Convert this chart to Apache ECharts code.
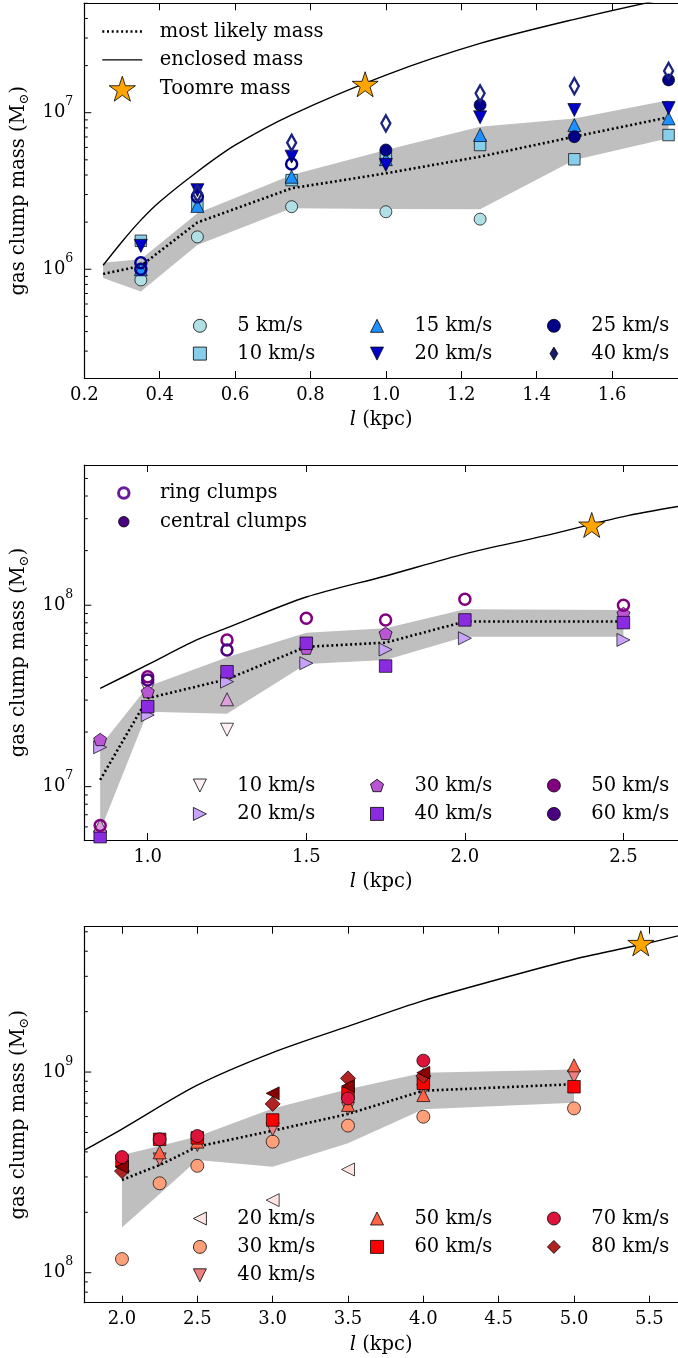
<!DOCTYPE html>
<html><head><meta charset="utf-8">
<script src="https://cdn.jsdelivr.net/npm/echarts@6/dist/echarts.min.js"></script>
<style>html,body{margin:0;padding:0;background:#fff}#c{width:678px;height:1358px}</style>
</head><body><div id="c"></div>
<script>
const FONT = 'DejaVu Serif';
const STAR = 'path://M0,-10L2.245,-3.09L9.511,-3.09L3.633,1.18L5.878,8.09L0,3.82L-5.878,8.09L-3.633,1.18L-9.511,-3.09L-2.245,-3.09Z';
const PENTA = 'path://M0,-10L9.511,-3.09L5.878,8.09L-5.878,8.09L-9.511,-3.09Z';
const THIN_DIAMOND = 'path://M0,-10L6,0L0,10L-6,0Z';
const DIAMOND = 'path://M0,-10L10,0L0,10L-10,0Z';
const SQUARE = 'path://M0,0L10,0L10,10L0,10Z';
const TRI_UP = 'path://M0,0L10,20L-10,20Z';
const TRI_DOWN = 'path://M-10,0L10,0L0,20Z';
const TRI_LEFT = 'path://M20,-10L20,10L0,0Z';
const TRI_RIGHT = 'path://M0,-10L0,10L20,0Z';

// ---------------- Panel 1 data (l in kpc, mass in Msun) ----------------
const p1_v5  = [[0.35,8.55e5],[0.5,1.61e6],[0.75,2.51e6],[1.0,2.33e6],[1.25,2.09e6]];
const p1_v10 = [[0.35,1.52e6],[0.5,2.57e6],[0.75,3.71e6],[1.0,5.28e6],[1.25,6.22e6],[1.5,5.04e6],[1.75,7.2e6]];
const p1_v15 = [[0.35,1.0e6],[0.5,2.54e6],[0.75,3.9e6],[1.0,5.05e6],[1.25,7.21e6],[1.5,8.34e6],[1.75,9.2e6]];
const p1_v20 = [[0.35,1.41e6],[0.5,3.2e6],[0.75,5.24e6],[1.0,4.64e6],[1.25,9.35e6],[1.5,1.04e7],[1.75,1.07e7]];
const p1_v25 = [[1.0,5.78e6],[1.25,1.12e7],[1.5,7.03e6],[1.75,1.62e7]];
const p1_v25ring = [[0.35,1.1e6],[0.35,1.0e6],[0.5,2.9e6],[0.75,4.7e6]];
const p1_v40ring = [[0.5,3.05e6],[0.75,6.43e6],[1.0,8.55e6],[1.25,1.33e7],[1.5,1.48e7],[1.75,1.85e7]];
const p1_likely = [[0.25,9.33e5],[0.35,1.05e6],[0.5,1.99e6],[0.75,3.29e6],[1.0,4.1e6],[1.25,5.24e6],[1.5,7.03e6],[1.75,9.35e6]];
const p1_bandLow  = [[0.25,8.8e5],[0.35,7.2e5],[0.5,1.43e6],[0.75,2.45e6],[1.0,2.43e6],[1.25,2.42e6],[1.5,4.99e6],[1.75,6.86e6]];
const p1_bandHigh = [[0.25,1.1e6],[0.35,1.16e6],[0.5,2.28e6],[0.75,4.0e6],[1.0,5.78e6],[1.25,8.15e6],[1.5,9.2e6],[1.75,1.2e7]];
const p1_enclosed = [[0.25,1.06e6],[0.3,1.5e6],[0.35,2.06e6],[0.4,2.7e6],[0.5,4.2e6],[0.6,6.2e6],[0.75,9.7e6],[1.0,1.74e7],[1.25,2.77e7],[1.5,3.95e7],[1.75,5.4e7]];
const p1_toomre = [[0.945,1.52e7]];

// ---------------- Panel 2 data ----------------
const p2_v10 = [[1.0,3.45e7],[1.25,2.06e7]];
const p2_v20 = [[0.85,1.65e7],[1.0,2.48e7],[1.25,3.79e7],[1.5,4.79e7],[1.75,5.7e7],[2.0,6.58e7],[2.5,6.44e7]];
const p2_v30 = [[0.85,1.82e7],[1.0,3.34e7],[1.5,5.8e7],[1.75,7.0e7],[2.5,9.0e7]];
const p2_v40 = [[0.85,5.3e6],[1.0,2.76e7],[1.25,4.3e7],[1.5,6.17e7],[1.75,4.62e7],[2.0,8.3e7],[2.5,8.02e7]];
const p2_plum = [[0.85,6.1e6],[1.25,3.03e7]];
const p2_v50ring = [[0.85,6.1e6],[1.0,4.03e7],[1.25,6.44e7],[1.5,8.48e7],[1.75,8.3e7],[2.0,1.08e8],[2.5,1.0e8]];
const p2_v60ring = [[1.0,3.87e7],[1.25,5.67e7]];
const p2_likely = [[0.85,1.09e7],[1.0,3.07e7],[1.25,3.91e7],[1.5,5.9e7],[1.75,6.22e7],[2.0,8.13e7],[2.5,8.13e7]];
const p2_bandLow  = [[0.85,5.7e6],[1.0,2.59e7],[1.25,2.52e7],[1.5,4.74e7],[1.75,4.99e7],[2.0,6.71e7],[2.5,6.71e7]];
const p2_bandHigh = [[0.85,1.67e7],[1.0,3.56e7],[1.25,5.17e7],[1.5,7.06e7],[1.75,7.47e7],[2.0,9.5e7],[2.5,9.4e7]];
const p2_enclosed = [[0.85,3.48e7],[1.0,4.7e7],[1.154,6.44e7],[1.25,7.5e7],[1.5,1.11e8],[1.75,1.45e8],[2.0,1.92e8],[2.25,2.41e8],[2.5,3.08e8],[2.672,3.5e8]];
const p2_toomre = [[2.40,2.77e8]];

// ---------------- Panel 3 data ----------------
const p3_v20 = [[3.0,2.3e8],[3.5,3.27e8]];
const p3_v30 = [[2.0,1.17e8],[2.25,2.79e8],[2.5,3.41e8],[3.0,4.5e8],[3.5,5.41e8],[4.0,5.99e8],[5.0,6.59e8]];
const p3_v40 = [[2.25,3.67e8],[2.5,4.33e8],[3.0,5.19e8],[3.5,6.59e8],[4.0,8.07e8],[5.0,9.5e8]];
const p3_v50 = [[2.25,3.98e8],[2.5,4.5e8],[3.5,6.86e8],[4.0,7.68e8],[5.0,1.08e9]];
const p3_v60 = [[2.0,3.6e8],[2.25,4.62e8],[2.5,4.7e8],[3.0,5.77e8],[3.5,7.83e8],[4.0,8.79e8],[5.0,8.45e8]];
const p3_v70 = [[2.0,3.77e8],[2.25,4.62e8],[2.5,4.8e8],[3.5,7.39e8],[4.0,1.14e9]];
const p3_v80 = [[2.0,3.21e8],[3.0,6.94e8],[3.5,9.3e8],[4.0,9.55e8]];
const p3_dark = [[2.0,3.37e8],[3.0,7.83e8],[3.5,8.51e8],[4.0,9.93e8]];
const p3_likely = [[2.0,2.9e8],[2.25,3.44e8],[2.5,4.25e8],[3.0,5.1e8],[3.5,6.18e8],[4.0,8.07e8],[5.0,8.7e8]];
const p3_bandLow  = [[2.0,1.68e8],[2.25,2.47e8],[2.5,3.65e8],[3.0,3.37e8],[3.5,4.42e8],[4.0,6.52e8],[5.0,7.03e8]];
const p3_bandHigh = [[2.0,3.86e8],[2.25,4.28e8],[2.5,4.77e8],[3.0,6.59e8],[3.5,8.2e8],[4.0,9.93e8],[5.0,1.03e9]];
const p3_enclosed = [[1.75,4.08e8],[2.0,5.2e8],[2.5,8.6e8],[3.0,1.25e9],[3.5,1.69e9],[4.0,2.27e9],[4.5,2.9e9],[5.0,3.65e9],[5.5,4.41e9],[5.69,4.77e9]];
const p3_toomre = [[5.443,4.38e9]];

// tick multipliers for log minor ticks
const LOG_TICK_MULTS = [1,2,3,4,5,6,7,8,9];

// ---------------- axis ranges ----------------
const RANGES = [
  {x:[0.2,1.775], y:[2.02e5,5e7]},
  {x:[0.8,2.672], y:[5.08e6,5.93e8]},
  {x:[1.75,5.69], y:[7.09e7,5.3e9]}
];

const fmtName = n => n.split('#')[0];

function powFmt(v){
  const e = Math.log10(v), r = Math.round(e);
  if (Math.abs(e - r) < 1e-6) return '{b|10}{s|' + r + '}';
  return '';
}

function xAxesFor(gi, extra, showMin){
  const r = RANGES[gi];
  const common = Object.assign({type:'value', gridIndex:gi, min:r.x[0], max:r.x[1], splitLine:{show:false},
    axisLine:{show:true, onZero:false, lineStyle:{color:'#000', width:1.2}},
    axisTick:{show:true, inside:true, length:7, lineStyle:{color:'#000', width:1}}}, extra);
  return [
    Object.assign({}, common, {position:'bottom',
      axisLabel:{show:true, margin:8, formatter:v=>v.toFixed(1), showMinLabel:showMin, showMaxLabel:false,
        color:'#000', fontFamily:FONT, fontSize:18},
      name:'{i|l} (kpc)', nameLocation:'middle', nameGap:31,
      nameTextStyle:{fontFamily:FONT, fontSize:19.5, color:'#000', lineHeight:22,
        rich:{i:{fontStyle:'italic', fontFamily:FONT, fontSize:19.5, lineHeight:22, color:'#000'}}}}),
    Object.assign({}, common, {position:'top', axisLabel:{show:false}})
  ];
}

function yAxisFor(gi){
  const r = RANGES[gi];
  return {type:'log', logBase:10, gridIndex:gi, min:r.y[0], max:r.y[1], splitLine:{show:false},
    axisLine:{show:true, lineStyle:{color:'#000', width:1.2}}, axisTick:{show:false}, minorTick:{show:false},
    axisLabel:{formatter:powFmt, margin:11, showMinLabel:false, showMaxLabel:false,
      rich:{b:{fontFamily:FONT, fontSize:18, lineHeight:34, color:'#000'},
            s:{fontFamily:FONT, fontSize:12.5, lineHeight:13, verticalAlign:'top', color:'#000'}}},
    name:'{n|gas clump mass (M}{u|⊙}{n|)}', nameLocation:'middle', nameGap:43, nameRotate:90,
    nameTextStyle:{rich:{n:{fontFamily:FONT, fontSize:19.5, lineHeight:26, color:'#000'},
                         u:{fontFamily:FONT, fontSize:13, lineHeight:13, verticalAlign:'bottom', color:'#000'}}}};
}

function tickSeries(gi){
  const r = RANGES[gi];
  const data = [];
  for (let e = Math.floor(Math.log10(r.y[0])); e <= Math.ceil(Math.log10(r.y[1])); e++){
    LOG_TICK_MULTS.forEach(m => {
      const v = m * Math.pow(10, e);
      if (v >= r.y[0] && v <= r.y[1]) data.push([r.x[0], v, m === 1 ? 7 : 3.5]);
    });
  }
  return {type:'custom', xAxisIndex:gi*2, yAxisIndex:gi, data, silent:true, z:10, clip:false,
    renderItem:(params, api) => {
      const p = api.coord([api.value(0), api.value(1)]);
      return {type:'line', shape:{x1:p[0], y1:p[1], x2:p[0]+api.value(2), y2:p[1]}, style:{stroke:'#000', lineWidth:1}};
    }};
}

function bandSeries(gi, lo, hi){
  return {type:'custom', xAxisIndex:gi*2, yAxisIndex:gi, data:[lo[0]], silent:true, z:1,
    renderItem:(params, api) => {
      const pts = hi.map(p => api.coord(p)).concat(lo.slice().reverse().map(p => api.coord(p)));
      return {type:'polygon', shape:{points:pts}, style:{fill:'#bfbfbf'}};
    }};
}

function lineSeries(gi, name, data, dotted){
  return {type:'line', name, data, xAxisIndex:gi*2, yAxisIndex:gi, symbol:'none', silent:true, z:2,
    smooth: dotted ? false : 0.3, itemStyle:{color:'#000'},
    lineStyle: dotted ? {color:'#000', width:2.6, type:[2,2.7]} : {color:'#000', width:1.4}};
}

function sc(gi, name, data, symbol, size, color){
  return {type:'scatter', name, data, xAxisIndex:gi*2, yAxisIndex:gi, symbol, symbolSize:size,
    itemStyle:{color, borderColor:'#000', borderWidth:0.7, opacity:1}, z:3, silent:true};
}
function ring(gi, name, data, symbol, size, color){
  return {type:'scatter', name, data, xAxisIndex:gi*2, yAxisIndex:gi, symbol, symbolSize:size,
    itemStyle:{color:'rgba(255,255,255,0)', borderColor:color, borderWidth:2.5, opacity:1}, z:4, silent:true};
}
function star(gi, name, data){
  return {type:'scatter', name, data, xAxisIndex:gi*2, yAxisIndex:gi, symbol:STAR, symbolSize:[26,25],
    itemStyle:{color:'#ffa500', borderColor:'#000', borderWidth:0.8, opacity:1}, z:6, silent:true};
}

const LT = {fontFamily:FONT, fontSize:19.5, color:'#000'};
const TEXT_H = 20.6;
function colLegend(names, mx, my, spacing){
  return {orient:'vertical', left:mx-6.5, top:my-6.5, itemWidth:13, itemHeight:13, itemGap:spacing-TEXT_H,
    padding:0, selectedMode:false, formatter:fmtName,
    textStyle:Object.assign({}, LT, {lineHeight:13, padding:[0,0,0,25.9]}),
    itemStyle:{borderWidth:0.8, opacity:1}, data:names};
}

const COLX = [199.5, 376.6, 553.5];

const option = {
  animation:false,
  grid:[
    {left:84.3, top:3.3, width:593.7, height:374.7, outerBoundsMode:'none'},
    {left:84.3, top:465, width:593.7, height:375, outerBoundsMode:'none'},
    {left:84.3, top:926.7, width:593.7, height:376, outerBoundsMode:'none'}
  ],
  xAxis:[].concat(
    xAxesFor(0, {interval:0.2}, true),
    xAxesFor(1, {splitNumber:4, minInterval:0.5, maxInterval:0.5}, false),
    xAxesFor(2, {splitNumber:8, minInterval:0.5, maxInterval:0.5}, false)
  ),
  yAxis:[yAxisFor(0), yAxisFor(1), yAxisFor(2)],
  legend:[
    {orient:'vertical', left:101, top:19, itemWidth:40, itemHeight:25, itemGap:3.4, padding:0, selectedMode:false,
      formatter:fmtName, textStyle:Object.assign({}, LT, {lineHeight:25, padding:[0,0,0,12.5]}),
      data:[
        {name:'most likely mass', itemStyle:{color:'rgba(0,0,0,0)', borderWidth:0}, lineStyle:{color:'#000', width:2.6, type:[2,2.7]}},
        {name:'enclosed mass', itemStyle:{color:'rgba(0,0,0,0)', borderWidth:0}, lineStyle:{color:'#000', width:1.4, type:'solid'}},
        {name:'Toomre mass', itemStyle:{borderWidth:0.8, opacity:1}}
      ]},
    colLegend(['5 km/s','10 km/s'], COLX[0], 322.3, 28.4),
    colLegend(['15 km/s','20 km/s'], COLX[1], 322.3, 28.4),
    colLegend(['25 km/s','40 km/s'], COLX[2], 322.3, 28.4),
    {orient:'vertical', left:117.05, top:483, itemWidth:10.5, itemHeight:10.5, itemGap:29.3-TEXT_H, padding:0, selectedMode:false,
      formatter:fmtName, textStyle:Object.assign({}, LT, {lineHeight:10.5, padding:[0,0,0,25.95]}),
      data:[
        {name:'ring clumps', itemStyle:{color:'rgba(0,0,0,0)', borderColor:'#6a1b9a', borderWidth:3, opacity:1}},
        {name:'central clumps', itemStyle:{borderWidth:0.8, opacity:1}}
      ]},
    colLegend(['10 km/s#2','20 km/s#2'], COLX[0], 782, 29),
    colLegend(['30 km/s#2','40 km/s#2'], COLX[1], 782, 29),
    colLegend(['50 km/s#2','60 km/s#2'], COLX[2], 782, 29),
    colLegend(['20 km/s#3','30 km/s#3','40 km/s#3'], COLX[0], 1215, 29),
    colLegend(['50 km/s#3','60 km/s#3'], COLX[1], 1215, 29),
    colLegend(['70 km/s#3','80 km/s#3'], COLX[2], 1215, 29)
  ],
  series:[
    // panel 1
    bandSeries(0, p1_bandLow, p1_bandHigh),
    lineSeries(0, 'most likely mass', p1_likely, true),
    lineSeries(0, 'enclosed mass', p1_enclosed, false),
    sc(0, '5 km/s', p1_v5, 'circle', 12, '#b0e0e6'),
    sc(0, '10 km/s', p1_v10, SQUARE, 11.5, '#87ceeb'),
    sc(0, '15 km/s', p1_v15, TRI_UP, 13, '#1e90ff'),
    sc(0, '20 km/s', p1_v20, TRI_DOWN, 13, '#0000cd'),
    sc(0, '25 km/s', p1_v25, 'circle', 12, '#00008b'),
    sc(0, '40 km/s', [], THIN_DIAMOND, [10,17], '#191970'),
    ring(0, 'ring25', p1_v25ring, 'circle', 11, '#00008b'),
    ring(0, 'ring40', p1_v40ring, THIN_DIAMOND, [9,16], '#1a237e'),
    star(0, 'Toomre mass', p1_toomre),
    tickSeries(0),
    // panel 2
    bandSeries(1, p2_bandLow, p2_bandHigh),
    lineSeries(1, 'most likely mass#2', p2_likely, true),
    lineSeries(1, 'enclosed mass#2', p2_enclosed, false),
    sc(1, '10 km/s#2', p2_v10, TRI_DOWN, 13, '#fff0f5'),
    sc(1, '20 km/s#2', p2_v20, TRI_RIGHT, 13, '#c8a2f8'),
    sc(1, '30 km/s#2', p2_v30, PENTA, [13,12.4], '#ba55d3'),
    sc(1, '40 km/s#2', p2_v40, SQUARE, 12.5, '#8a2be2'),
    sc(1, '50 km/s#2', [], 'circle', 12, '#800080'),
    sc(1, '60 km/s#2', [], 'circle', 12, '#4b0082'),
    sc(1, 'plum', p2_plum, TRI_UP, 13, '#dda0dd'),
    ring(1, 'ring50', p2_v50ring, 'circle', 11, '#800080'),
    ring(1, 'ring60', p2_v60ring, 'circle', 11, '#4b0082'),
    ring(1, 'ring clumps', [], 'circle', 11, '#6a1b9a'),
    sc(1, 'central clumps', [], 'circle', 11, '#4b0082'),
    star(1, 'Toomre mass#2', p2_toomre),
    tickSeries(1),
    // panel 3
    bandSeries(2, p3_bandLow, p3_bandHigh),
    lineSeries(2, 'most likely mass#3', p3_likely, true),
    lineSeries(2, 'enclosed mass#3', p3_enclosed, false),
    sc(2, '20 km/s#3', p3_v20, TRI_LEFT, 13, '#ffe4e1'),
    sc(2, '30 km/s#3', p3_v30, 'circle', 13, '#ffa07a'),
    sc(2, '40 km/s#3', p3_v40, TRI_DOWN, 13, '#f08080'),
    sc(2, '50 km/s#3', p3_v50, TRI_UP, 13, '#ff6347'),
    sc(2, '60 km/s#3', p3_v60, SQUARE, 12.5, '#ff0000'),
    sc(2, '80 km/s#3', p3_v80, DIAMOND, 15, '#b22222'),
    sc(2, 'darkred', p3_dark, TRI_LEFT, 13, '#8b0000'),
    sc(2, '70 km/s#3', p3_v70, 'circle', 13, '#dc143c'),
    star(2, 'Toomre mass#3', p3_toomre),
    tickSeries(2)
  ]
};

const chart = echarts.init(document.getElementById('c'), null, {renderer:'canvas'});
chart.setOption(option);
</script>
</body></html>
